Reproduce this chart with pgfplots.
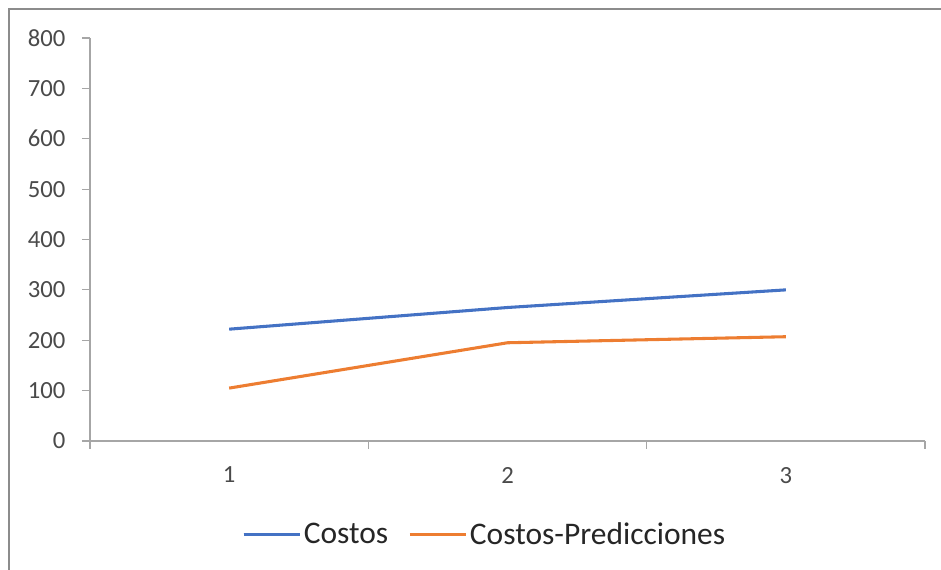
\documentclass[border=0pt]{standalone}
\usepackage{pgfplots}
\pgfplotsset{compat=1.18}
\usepackage{fontspec}
\setmainfont{Carlito}
\definecolor{cblue}{HTML}{4472C4}
\definecolor{corange}{HTML}{ED7D31}
\definecolor{ticktext}{HTML}{4A4A4A}
\definecolor{axgray}{HTML}{A6A6A6}
\definecolor{framegray}{HTML}{8C8C8C}
\begin{document}
\begin{tikzpicture}
\useasboundingbox (0,0) rectangle (705.75pt,427.5pt);
\draw[framegray, line width=1.5pt] (6.75pt,0pt) -- (6.75pt,420.75pt) -- (705.75pt,420.75pt);
\begin{axis}[
  at={(67.5pt,96.75pt)}, anchor=south west,
  scale only axis, width=626.25pt, height=302.25pt,
  xmin=0.5, xmax=3.5, ymin=0, ymax=800,
  axis x line=bottom, axis y line=left,
  axis line style={draw=axgray, line width=0.9pt, -},
  tick style={draw=axgray, line width=0.9pt},
  tick align=outside, major tick length=6pt,
  xtick={0.5,1.5,2.5,3.5}, xticklabels={},
  extra x ticks={1,2,3}, extra x tick labels={1,2,3},
  extra x tick style={major tick length=0pt},
  ytick={0,100,...,800},
  ticklabel style={font=\fontsize{18.5pt}{20pt}\selectfont, text=ticktext},
  xticklabel style={anchor=north, yshift=-16pt},
  yticklabel style={anchor=east, xshift=-9pt},
  /pgf/number format/assume math mode=true,
  /pgf/number format/1000 sep={},
  legend columns=2,
  legend style={at={(0.473,-0.231)}, anchor=center, draw=none, fill=none,
    font=\fontsize{23.6pt}{26pt}\selectfont, text=black!85,
    /tikz/every even column/.append style={column sep=13pt}},
  legend image code/.code={\path (0pt,0pt) -- (42pt,0pt);\draw[#1] (0pt,0pt) -- (39pt,0pt);},
]
\addplot[cblue, line width=2.3pt] coordinates {(1,222) (2,265) (3,300)};
\addlegendentry{Costos}
\addplot[corange, line width=2.3pt] coordinates {(1,105) (2,195) (3,207)};
\addlegendentry{Costos-Predicciones}
\end{axis}
\end{tikzpicture}
\end{document}
